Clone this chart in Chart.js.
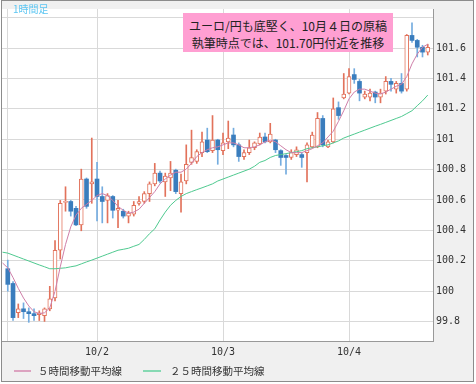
<!DOCTYPE html>
<html>
<head>
<meta charset="utf-8">
<script src="https://cdn.jsdelivr.net/npm/chart.js@4.4.1/dist/chart.umd.min.js"></script>
<style>
  html, body { margin: 0; padding: 0; background: #fff; }
  #wrap { position: relative; width: 476px; height: 384px; overflow: hidden; }
  #frame { position: absolute; left: 1px; top: 0; width: 471px; height: 380px; border: 1px solid #8c8c8c; background: #f0f0f0; }
  #chart { position: absolute; left: 0; top: 0; }
  .tf { position: absolute; left: 13px; top: 2px; font: 10px/14px "Noto Sans CJK JP"; color: #5cc6f2; }
  .note {
    position: absolute; left: 183px; top: 13px; width: 210px; height: 39px;
    box-sizing: border-box; padding-top: 4px;
    background: #ff9fd2; color: #222; text-align: center;
    font: 12px/17px "Noto Sans CJK JP";
  }
  .lg-line { position: absolute; top: 370px; height: 2px; }
  .lg-text { position: absolute; top: 363px; font: 10.5px/16px "Noto Sans CJK JP"; color: #333; white-space: nowrap; }
</style>
</head>
<body>
<div id="wrap">
  <div id="frame"></div>
  <canvas id="chart" width="476" height="384"></canvas>
  <div class="tf">1時間足</div>
  <div class="note">ユーロ/円も底堅く、10月４日の原稿<br>執筆時点では、101.70円付近を推移</div>
  <div class="lg-line" style="left:14px;width:17px;background:#dca3c0"></div>
  <div class="lg-text" style="left:38px">５時間移動平均線</div>
  <div class="lg-line" style="left:143px;width:18px;background:#86d9b3"></div>
  <div class="lg-text" style="left:170px">２５時間移動平均線</div>
</div>
<script>
// ---- Data (1時間足, hour 0 = 10/1 6:00) ----

const dayTicks = [18, 42, 66];
const dayLabels = ['10/2', '10/3', '10/4'];
const firstCandleHour = 1; // hour 0 only has moving-average values

const open = [
  100.147, 100.050, 99.857, 99.883, 99.864, 99.851, 99.845, 99.838, 99.883, 99.954,
  100.269, 100.584, 100.590, 100.545, 100.436, 100.738, 100.706, 100.738, 100.623, 100.597,
  100.623, 100.532, 100.526, 100.494, 100.507, 100.578, 100.590, 100.642, 100.706, 100.777,
  100.719, 100.745, 100.796, 100.642, 100.725, 100.848, 100.854, 100.912, 100.995, 100.925,
  100.995, 100.925, 100.983, 101.028, 100.963, 100.886, 100.912, 100.944, 100.970, 101.015,
  100.983, 100.995, 100.925, 100.893, 100.880, 100.899, 100.899, 100.912, 100.950, 100.950,
  101.137, 100.950, 100.983, 101.208, 101.272, 101.304, 101.426, 101.381, 101.278, 101.278,
  101.311, 101.278, 101.317, 101.381, 101.330, 101.368, 101.330, 101.684, 101.651, 101.606,
  101.574
];
const high = [
  100.204, 100.063, 99.915, 99.922, 99.889, 99.883, 99.870, 99.889, 100.031, 100.333,
  100.597, 100.687, 100.597, 100.558, 100.803, 100.745, 101.008, 100.848, 100.687, 100.642,
  100.629, 100.597, 100.539, 100.526, 100.590, 100.623, 100.655, 100.719, 100.841, 100.790,
  100.777, 100.854, 100.803, 100.770, 100.963, 101.060, 100.931, 101.047, 101.073, 101.156,
  101.000, 101.041, 101.120, 101.073, 100.976, 100.931, 100.995, 100.983, 101.041, 101.041,
  101.105, 101.000, 100.931, 100.899, 100.931, 100.950, 100.912, 100.976, 101.047, 101.176,
  101.156, 100.995, 101.272, 101.246, 101.433, 101.465, 101.465, 101.394, 101.317, 101.330,
  101.317, 101.330, 101.413, 101.401, 101.381, 101.433, 101.690, 101.767, 101.658, 101.619,
  101.626
];
const low = [
  99.999, 99.806, 99.825, 99.819, 99.794, 99.806, 99.806, 99.800, 99.870, 99.935,
  100.211, 100.526, 100.494, 100.430, 100.397, 100.545, 100.578, 100.462, 100.449, 100.449,
  100.481, 100.417, 100.481, 100.449, 100.494, 100.565, 100.578, 100.590, 100.693, 100.712,
  100.623, 100.661, 100.642, 100.520, 100.706, 100.835, 100.841, 100.886, 100.912, 100.912,
  100.835, 100.899, 100.938, 100.950, 100.854, 100.867, 100.899, 100.931, 100.963, 100.976,
  100.976, 100.912, 100.828, 100.770, 100.867, 100.886, 100.815, 100.719, 100.944, 100.944,
  100.950, 100.944, 100.976, 101.131, 101.266, 101.298, 101.368, 101.253, 101.266, 101.253,
  101.240, 101.240, 101.298, 101.317, 101.304, 101.304, 101.317, 101.638, 101.542, 101.542,
  101.555
];
const close = [
  100.044, 99.825, 99.883, 99.864, 99.851, 99.838, 99.857, 99.883, 99.948, 100.269,
  100.578, 100.590, 100.526, 100.436, 100.738, 100.558, 100.719, 100.623, 100.590, 100.629,
  100.532, 100.545, 100.494, 100.513, 100.565, 100.590, 100.642, 100.706, 100.777, 100.725,
  100.758, 100.777, 100.655, 100.719, 100.835, 100.880, 100.918, 100.983, 100.918, 100.995,
  100.931, 100.976, 101.008, 100.963, 100.886, 100.912, 100.944, 100.976, 101.015, 100.983,
  101.034, 100.931, 100.880, 100.880, 100.912, 100.931, 100.880, 100.963, 101.028, 101.137,
  100.963, 100.983, 101.201, 101.156, 101.298, 101.413, 101.394, 101.304, 101.298, 101.304,
  101.278, 101.304, 101.381, 101.362, 101.368, 101.317, 101.684, 101.651, 101.606, 101.574,
  101.606
];

// moving averages, one value per hour starting at hour 0
const ma5 = [
  100.185, 100.153, 100.089, 100.018, 99.954, 99.902, 99.864, 99.851, 99.857, 99.889,
  99.999, 100.160, 100.307, 100.423, 100.500, 100.545, 100.571, 100.597, 100.629, 100.642,
  100.629, 100.597, 100.558, 100.532, 100.513, 100.520, 100.539, 100.578, 100.616, 100.655,
  100.706, 100.738, 100.764, 100.783, 100.783, 100.803, 100.841, 100.886, 100.912, 100.931,
  100.944, 100.950, 100.963, 100.976, 100.976, 100.963, 100.944, 100.944, 100.950, 100.963,
  100.983, 100.995, 100.983, 100.957, 100.931, 100.912, 100.912, 100.912, 100.925, 100.938,
  100.957, 100.976, 101.015, 101.053, 101.118, 101.188, 101.266, 101.311, 101.330, 101.330,
  101.317, 101.304, 101.298, 101.311, 101.330, 101.349, 101.362, 101.413, 101.497, 101.561,
  101.606, 101.626
];
const ma25 = [
  100.256, 100.250, 100.237, 100.224, 100.211, 100.198, 100.185, 100.172, 100.160, 100.147,
  100.147, 100.150, 100.153, 100.160, 100.166, 100.179, 100.192, 100.204, 100.217, 100.230,
  100.243, 100.256, 100.269, 100.275, 100.282, 100.295, 100.307, 100.340, 100.378, 100.410,
  100.468, 100.520, 100.565, 100.597, 100.623, 100.642, 100.655, 100.668, 100.680, 100.693,
  100.706, 100.725, 100.738, 100.751, 100.764, 100.777, 100.790, 100.803, 100.822, 100.848,
  100.860, 100.880, 100.893, 100.899, 100.905, 100.912, 100.918, 100.925, 100.938, 100.944,
  100.950, 100.957, 100.963, 100.976, 100.989, 101.008, 101.021, 101.034, 101.047, 101.060,
  101.073, 101.086, 101.098, 101.111, 101.124, 101.137, 101.150, 101.169, 101.188, 101.221,
  101.253, 101.291
];

// ---- Colours ----

const UP = '#e2725b';
const DOWN = '#3a7dbd';
const DOWN_WICK = '#74acdf';
const MA5_COLOR = '#cf7fa9';
const MA25_COLOR = '#4fca90';

const isUp = i => close[i] >= open[i];

// ---- Chart ----

const wicks = low.map((l, i) => ({ x: i + firstCandleHour, y: [l, high[i]] }));
const bodies = open.map((o, i) => ({ x: i + firstCandleHour, y: [o, close[i]] }));

const plotBg = {
  id: 'plotBg',
  beforeDraw(chart) {
    const { ctx, chartArea: a } = chart;
    ctx.save();
    ctx.fillStyle = '#fff';
    ctx.fillRect(a.left, a.top, a.right - a.left, a.bottom - a.top);
    ctx.restore();
  }
};

new Chart(document.getElementById('chart'), {
  type: 'bar',
  data: {
    datasets: [
      {
        type: 'line',
        data: ma5.map((v, i) => ({ x: i, y: v })),
        borderColor: MA5_COLOR,
        borderWidth: 1,
        pointRadius: 0,
        tension: 0,
        order: 0
      },
      {
        type: 'line',
        data: ma25.map((v, i) => ({ x: i, y: v })),
        borderColor: MA25_COLOR,
        borderWidth: 1,
        pointRadius: 0,
        tension: 0,
        order: 0
      },
      {
        data: bodies,
        grouped: false,
        barThickness: 4,
        minBarLength: 1,
        borderSkipped: false,
        backgroundColor: c => isUp(c.dataIndex) ? '#fff' : DOWN,
        borderColor: c => isUp(c.dataIndex) ? UP : DOWN,
        borderWidth: c => isUp(c.dataIndex) ? 1 : 0,
        order: 1
      },
      {
        data: wicks,
        grouped: false,
        barThickness: 1,
        borderWidth: 0,
        backgroundColor: c => isUp(c.dataIndex) ? UP : DOWN_WICK,
        order: 2
      }
    ]
  },
  options: {
    responsive: false,
    animation: false,
    layout: { padding: { left: 2, top: 1, right: 0, bottom: 0 } },
    plugins: {
      legend: { display: false },
      tooltip: { enabled: false }
    },
    scales: {
      x: {
        type: 'linear',
        min: -0.1,
        max: 82,
        offset: false,
        afterBuildTicks: axis => {
          axis.ticks = [firstCandleHour].concat(dayTicks).map(v => ({ value: v }));
        },
        afterFit: axis => { axis.height = 43; },
        ticks: {
          autoSkip: false,
          maxRotation: 0,
          padding: 5,
          color: '#333',
          font: { family: 'DejaVu Sans Mono', size: 10 },
          callback: v => {
            const k = dayTicks.indexOf(v);
            return k >= 0 ? dayLabels[k] : '';
          }
        },
        grid: { color: '#d9d9d9', drawTicks: false, offset: false },
        border: { display: true, color: '#999' }
      },
      y: {
        position: 'right',
        min: 99.671,
        max: 101.858,
        afterFit: axis => { axis.width = 43; },
        ticks: {
          stepSize: 0.2,
          includeBounds: false,
          padding: 3,
          color: '#333',
          font: { family: 'DejaVu Sans Mono', size: 10 },
          callback: v => v > 101.7 ? '' : String(Math.round(v * 10) / 10)
        },
        grid: { color: '#d9d9d9', drawTicks: false },
        border: { display: true, color: '#999' }
      }
    }
  },
  plugins: [plotBg]
});
</script>
</body>
</html>
